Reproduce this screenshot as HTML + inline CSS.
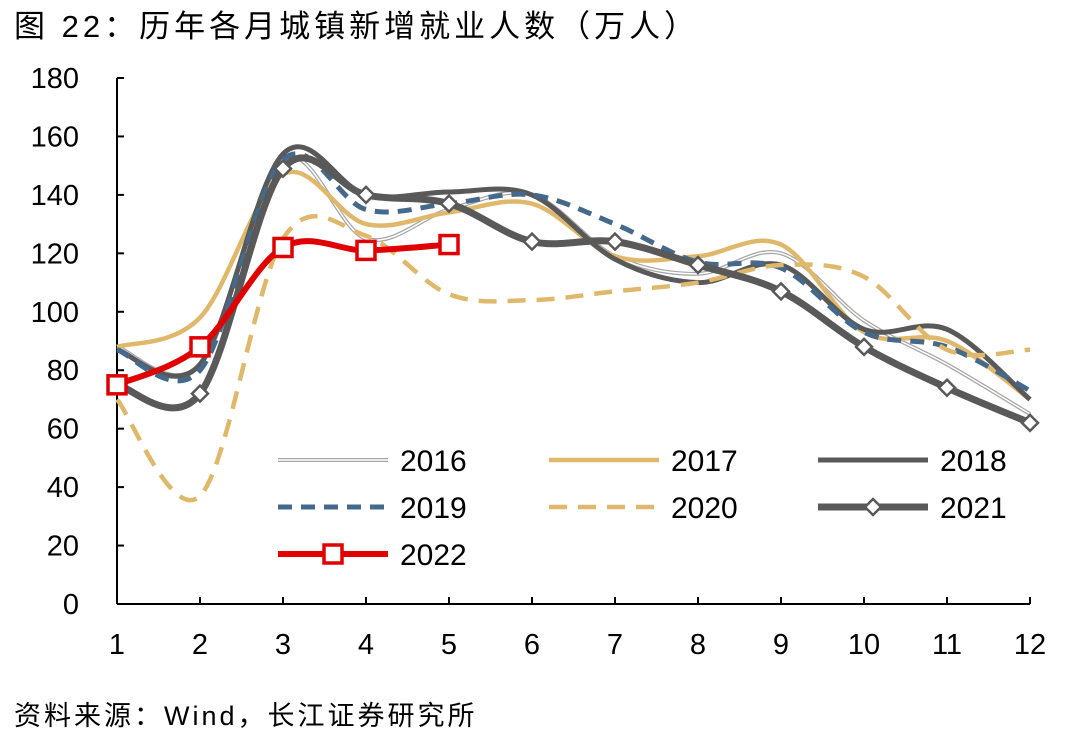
<!DOCTYPE html>
<html><head><meta charset="utf-8">
<style>
body{margin:0;background:#fff;width:1080px;height:737px;overflow:hidden;font-family:"Liberation Sans","Noto Sans CJK SC",sans-serif;}
svg text{font-family:"Liberation Sans","Noto Sans CJK SC",sans-serif;}
</style></head>
<body>
<svg id="c" width="1080" height="737" xmlns="http://www.w3.org/2000/svg">
<text x="14" y="37" font-size="31" letter-spacing="4" fill="#000">图 22：历年各月城镇新增就业人数（万人）</text>
<text x="14" y="725" font-size="27" letter-spacing="3" fill="#000">资料来源：Wind，长江证券研究所</text>
<g id="axes"></g><g id="series"></g><g id="legend"></g>
</svg>
<script>
const months=[1,2,3,4,5,6,7,8,9,10,11,12];
const yTicks=[0,20,40,60,80,100,120,140,160,180];
const s2016=[88,82,152,125,135,140,119,113,120,97,82,65];
const s2017=[88,98,147,130,134,137,119,119,123,93,90,70];
const s2018=[87,82,154,140,141,140,118,110,116,94,94,70];
const s2019=[87,80,152,135,137,140,130,117,115,93,88,73];
const s2020=[70,37,125,126,106,104,107,110,116,112,87,87];
const s2021=[75,72,149,140,137,124,124,116,107,88,74,62];
const s2022=[75,88,122,121,123];
const NS="http://www.w3.org/2000/svg";
const X=m=>117+(m-1)*83, Y=v=>604-v*(526/180);
function el(t,a,p){const e=document.createElementNS(NS,t);for(const k in a)e.setAttribute(k,a[k]);(p||document.getElementById('c')).appendChild(e);return e;}
const ax=document.getElementById('axes'),sg=document.getElementById('series'),lg=document.getElementById('legend');
let e=el('line',{x1:117,y1:Y(0),x2:117,y2:Y(180),stroke:'#000','stroke-width':2},ax);

e=el('line',{x1:117,y1:Y(0),x2:1030,y2:Y(0),stroke:'#000','stroke-width':2},ax);

yTicks.forEach(v=>{
 let t=el('line',{x1:117,x2:124,y1:Y(v),y2:Y(v),stroke:'#000','stroke-width':2},ax);
 
 let l=el('text',{x:79,y:Y(v)+10,'font-size':29,'text-anchor':'end'},ax);l.textContent=v;
 
});
months.forEach(m=>{
 let t=el('line',{x1:X(m),x2:X(m),y1:Y(0),y2:Y(0)-7,stroke:'#000','stroke-width':2},ax);
 
 let l=el('text',{x:X(m),y:654,'font-size':29,'text-anchor':'middle'},ax);l.textContent=m;
 
});
function smooth(vals){
 const p=vals.map((v,i)=>[X(months[i]),Y(v)]);
 let d='M'+p[0][0]+','+p[0][1];
 for(let i=0;i<p.length-1;i++){
  const p0=p[i-1]||p[i],p1=p[i],p2=p[i+1],p3=p[i+2]||p[i+1],k=1/6;
  d+=` C${p1[0]+(p2[0]-p0[0])*k},${p1[1]+(p2[1]-p0[1])*k} ${p2[0]-(p3[0]-p1[0])*k},${p2[1]-(p3[1]-p1[1])*k} ${p2[0]},${p2[1]}`;
 }
 return d;
}
function series(vals,name,st,marker){
 if(st.double){
  let a=el('path',{d:smooth(vals),fill:'none',stroke:'#a6a6a6','stroke-width':4},sg);
  
  let b=el('path',{d:smooth(vals),fill:'none',stroke:'#fff','stroke-width':1.5},sg);
  
 } else {
  let a=el('path',{d:smooth(vals),fill:'none',stroke:st.c,'stroke-width':st.w,'stroke-dasharray':st.dash||'none'},sg);
  
 }
 if(marker==='diamond')vals.forEach((v,i)=>{
  const x=X(months[i]),y=Y(v);
  let m=el('path',{d:`M${x},${y-8}L${x+8},${y}L${x},${y+8}L${x-8},${y}Z`,fill:'#fff',stroke:'#595959','stroke-width':2.5},sg);
  
 });
 if(marker==='square')vals.forEach((v,i)=>{
  const x=X(months[i]),y=Y(v);
  let m=el('rect',{x:x-9,y:y-9,width:18,height:18,fill:'#fff',stroke:'#e00000','stroke-width':3.5},sg);
  
 });
}
const styles={
 s2016:{double:true},
 s2017:{c:'#e0b86c',w:4.5},
 s2018:{c:'#595959',w:5},
 s2019:{c:'#44698b',w:5,dash:'14,9'},
 s2020:{c:'#e0b86c',w:4.5,dash:'18,11'},
 s2021:{c:'#595959',w:7},
 s2022:{c:'#e00000',w:6}
};
series(s2016,'series-2016',styles.s2016);
series(s2017,'series-2017',styles.s2017);
series(s2018,'series-2018',styles.s2018);
series(s2019,'series-2019',styles.s2019);
series(s2020,'series-2020',styles.s2020);
series(s2021,'series-2021',styles.s2021,'diamond');
series(s2022,'series-2022',styles.s2022,'square');
const leg=[['2016','s2016',278,460],['2017','s2017',549,460],['2018','s2018',818,460],['2019','s2019',278,507],['2020','s2020',549,507],['2021','s2021',818,507],['2022','s2022',278,554]];
leg.forEach(([lab,k,x,y])=>{
 const st=styles[k];
 if(st.double){
  let a=el('line',{x1:x,x2:x+110,y1:y,y2:y,stroke:'#a6a6a6','stroke-width':4},lg);
  let b=el('line',{x1:x,x2:x+110,y1:y,y2:y,stroke:'#fff','stroke-width':1.5},lg);
 } else {
  let a=el('line',{x1:x,x2:x+110,y1:y,y2:y,stroke:st.c,'stroke-width':st.w,'stroke-dasharray':st.dash||'none'},lg);
  
 }
 if(k==='s2021'){let m=el('path',{d:`M${x+55},${y-8}L${x+63},${y}L${x+55},${y+8}L${x+47},${y}Z`,fill:'#fff',stroke:'#595959','stroke-width':2.5},lg);}
 if(k==='s2022'){let m=el('rect',{x:x+46,y:y-9,width:18,height:18,fill:'#fff',stroke:'#e00000','stroke-width':3.5},lg);}
 let t=el('text',{x:x+122,y:y+11,'font-size':30},lg);t.textContent=lab;
 
});
</script>
</body></html>
